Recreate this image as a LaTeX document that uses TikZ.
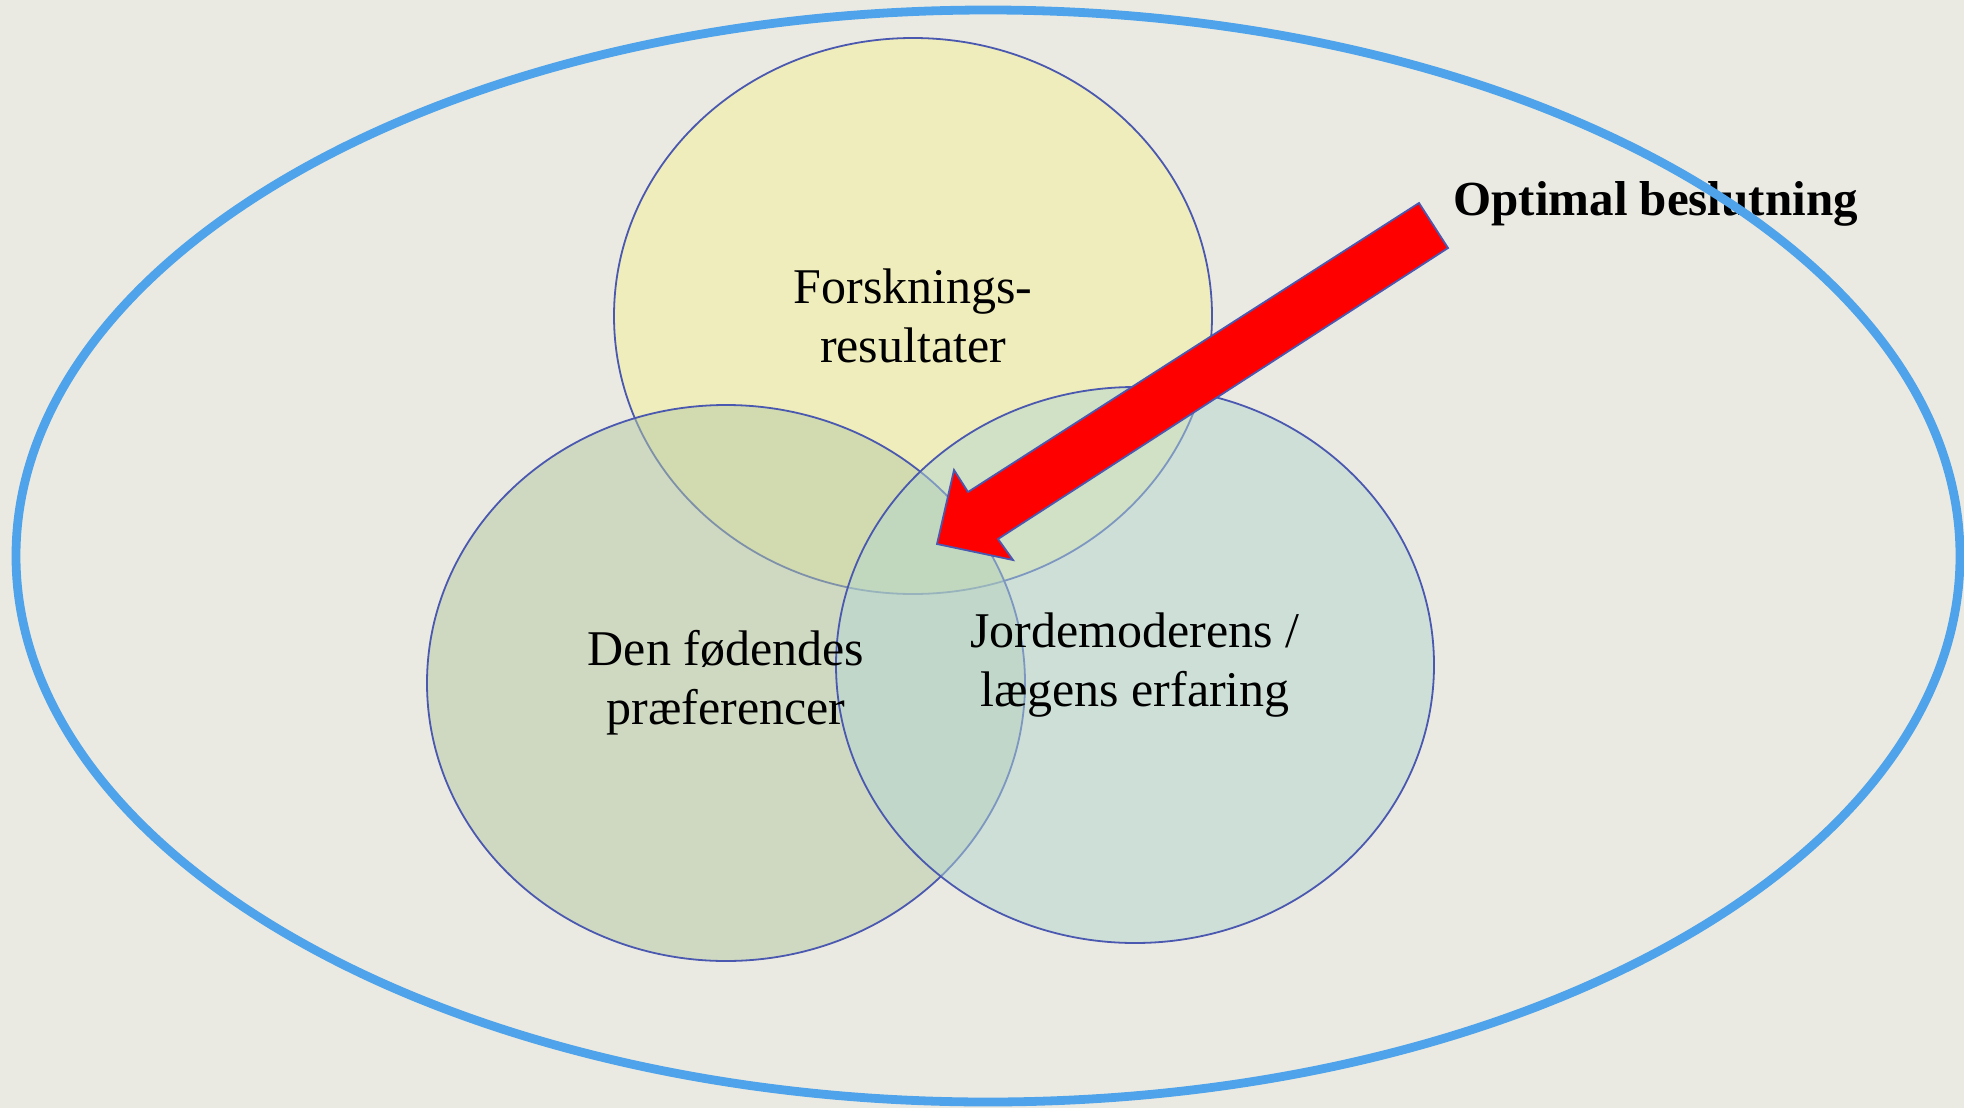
\documentclass[tikz,border=0pt]{standalone}
\usepackage{fontspec}
\setmainfont{Liberation Serif}
\usetikzlibrary{shapes.geometric}
\definecolor{bgcol}{RGB}{235,234,226}
\definecolor{rimcol}{RGB}{78,163,234}
\definecolor{setline}{RGB}{74,88,176}
\definecolor{researchcol}{RGB}{244,240,150}
\definecolor{mothercol}{RGB}{180,202,164}
\definecolor{midwifecol}{RGB}{178,214,208}

\begin{document}
\begin{tikzpicture}[
		x=0.5pt,y=-0.5pt,
		set/.style={draw=setline,line width=0.9pt,ellipse,minimum width=299pt,minimum height=278pt,fill opacity=0.5},
		settext/.style={align=center,font=\fontsize{25}{29.5}\selectfont},
		rim/.style={draw=rimcol,line width=4.4pt,ellipse,minimum width=972pt,minimum height=546pt},
		bigarrow/.style={draw=setline,line width=0.9pt,fill=red,line join=miter},
		label/.style={inner sep=0pt,anchor=west,font=\fontsize{24.5}{29}\selectfont\bfseries}
	]
		\useasboundingbox [fill=bgcol] (0,0) rectangle (1964,1108);

		\node [set,fill=researchcol] (research) at (913,316) {};
		\node [set,fill=mothercol] (mother) at (726,683) {};
		\node [set,fill=midwifecol] (midwife) at (1135,665) {};

		\node [settext] (research_txt) at (research) {Forsknings-\\resultater};
		\node [settext] (mother_txt) at (mother) {Den fødendes\\præferencer};
		\node [settext] (midwife_txt) at (midwife) {Jordemoderens /\\lægens erfaring};

		\coordinate (tip) at (937,544);
		\draw [bigarrow] (1419,203) -- (1448,248) -- (998,539) -- (1013,560)
			-- (tip) -- (954,470) -- (968,492) -- cycle;

		\node [label] (optimal) at (1453,204) {Optimal beslutning};

		\node [rim] (context) at (988,556) {};
	\end{tikzpicture}
\end{document}
